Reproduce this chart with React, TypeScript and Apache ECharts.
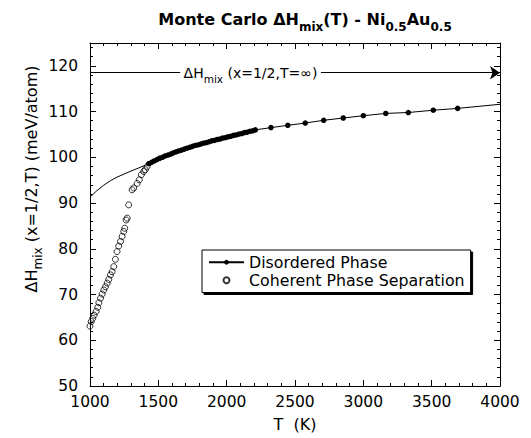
import React, { useEffect, useRef } from 'react';
import * as echarts from 'echarts';

// ---- data ----
// extrapolated part of the disordered-phase curve (line only, no markers)
const extrapT = [1000, 1050, 1100, 1150, 1200, 1300, 1400];
const extrapH = [91.3, 92.7, 93.9, 94.9, 95.7, 97.0, 98.2];

// simulated disordered-phase points (filled dots)
const disorderedT = [
  1430, 1450, 1470, 1490, 1510, 1530, 1550, 1570, 1590, 1610,
  1630, 1650, 1670, 1690, 1710, 1730, 1750, 1770, 1790, 1810,
  1830, 1850, 1870, 1890, 1910, 1930, 1950, 1970, 1990, 2010,
  2030, 2050, 2070, 2090, 2110, 2130, 2150, 2170, 2190, 2210,
  2324, 2447, 2575, 2710, 2853, 3000, 3164, 3329, 3512, 3690,
];
const disorderedH = [
  98.6, 98.9, 99.2, 99.5, 99.8, 100.0, 100.3, 100.5, 100.7, 101.0,
  101.2, 101.4, 101.6, 101.8, 102.0, 102.2, 102.4, 102.6, 102.7, 102.9,
  103.1, 103.2, 103.4, 103.6, 103.7, 103.9, 104.0, 104.2, 104.3, 104.5,
  104.6, 104.8, 104.9, 105.1, 105.2, 105.4, 105.5, 105.7, 105.8, 106.0,
  106.5, 107.0, 107.5, 108.1, 108.6, 109.1, 109.6, 109.8, 110.3, 110.7,
];
// curve end (line only)
const curveEndT = [4000];
const curveEndH = [111.6];

// coherent phase separation (open circles)
const coherentT = [
  1000, 1009, 1020, 1030, 1045, 1057, 1065, 1077, 1089, 1101,
  1113, 1126, 1137, 1150, 1162, 1174, 1186, 1198, 1210, 1223,
  1235, 1247, 1254, 1264, 1272, 1283, 1308, 1320, 1345, 1361,
  1376, 1393, 1405, 1418,
];
const coherentH = [
  63.1, 64.1, 64.8, 65.5, 66.3, 67.2, 68.2, 69.2, 70.1, 71.0,
  71.7, 72.5, 73.3, 74.3, 75.0, 76.1, 77.7, 79.4, 80.6, 81.6,
  82.7, 83.8, 84.5, 86.3, 86.7, 89.6, 92.9, 93.3, 94.3, 95.1,
  96.2, 96.9, 97.3, 98.0,
];

// infinite-temperature limit arrow
const limitH = 118.5;
const limitLabelT = 2174;
const limitSegments = [
  [1000, 1660],
  [2690, 4000],
];

// axes
const T_MIN = 1000;
const T_MAX = 4000;
const T_STEP = 500;
const H_MIN = 50;
const H_MAX = 125;
const H_STEP = 10;
const H_MINOR = 2;

const seriesNames = ['Disordered Phase', 'Coherent Phase Separation'];

const FONT = 'DejaVu Sans';

function buildOption() {
  const black = '#000';
  const xBase = (position: 'bottom' | 'top') => ({
    type: 'value',
    position,
    min: T_MIN,
    max: T_MAX,
    interval: T_STEP,
    axisLine: { show: true, onZero: false, lineStyle: { color: black, width: 1 } },
    axisTick: { show: true, inside: true, length: 6, lineStyle: { color: black, width: 1 } },
    minorTick: { show: true, splitNumber: 5, length: 3, lineStyle: { color: black, width: 1 } },
    splitLine: { show: false },
    minorSplitLine: { show: false },
  });
  const yBase = (position: 'left' | 'right', step: number, len: number, showLine: boolean) => ({
    type: 'value',
    position,
    min: H_MIN,
    max: H_MAX,
    interval: step,
    axisLine: { show: showLine, onZero: false, lineStyle: { color: black, width: 1 } },
    axisTick: { show: true, inside: true, length: len, lineStyle: { color: black, width: 1 } },
    axisLabel: { show: false },
    splitLine: { show: false },
  });

  const lineData: any[] = [];
  extrapT.forEach((t, i) => lineData.push({ value: [t, extrapH[i]], symbol: 'none' }));
  disorderedT.forEach((t, i) => lineData.push([t, disorderedH[i]]));
  curveEndT.forEach((t, i) => lineData.push({ value: [t, curveEndH[i]], symbol: 'none' }));

  const mainRich = {
    m: { fontSize: 14, fontFamily: FONT, color: black, lineHeight: 24, verticalAlign: 'middle' },
    s: { fontSize: 10.5, fontFamily: FONT, color: black, lineHeight: 24, verticalAlign: 'bottom' },
  };

  return {
    animation: false,
    backgroundColor: '#fff',
    textStyle: { fontFamily: FONT, color: black },
    grid: { left: 90, right: 31, top: 43, bottom: 52, containLabel: false },
    legend: {
      show: true,
      orient: 'vertical',
      left: 202,
      top: 250,
      data: [
        { name: seriesNames[0] },
        { name: seriesNames[1], icon: 'circle' },
      ],
      selectedMode: false,
      itemWidth: 35,
      itemHeight: 6,
      itemGap: 1.5,
      padding: [4, 6, 4, 6],
      backgroundColor: '#fff',
      borderColor: black,
      borderWidth: 1,
      borderRadius: 0,
      shadowColor: black,
      shadowBlur: 0,
      shadowOffsetX: 2,
      shadowOffsetY: 2,
      textStyle: { fontFamily: FONT, fontSize: 15.8, color: black, lineHeight: 16.5 },
    },
    xAxis: [
      {
        ...xBase('bottom'),
        axisLabel: {
          show: true,
          margin: 8,
          fontFamily: FONT,
          fontSize: 15.5,
          color: black,
          formatter: (v: number) => String(v),
        },
        name: 'T  (K)',
        nameLocation: 'middle',
        nameGap: 30,
        nameTextStyle: { fontFamily: FONT, fontSize: 16, color: black },
      },
      { ...xBase('top'), axisLabel: { show: false } },
    ],
    yAxis: [
      {
        ...yBase('left', H_STEP, 6, true),
        axisLabel: {
          show: true,
          margin: 12,
          fontFamily: FONT,
          fontSize: 15.5,
          color: black,
          showMaxLabel: false,
          formatter: (v: number) => (v % H_STEP === 0 ? String(v) : ''),
        },
      },
      yBase('left', H_MINOR, 3, false),
      yBase('right', H_STEP, 6, true),
      yBase('right', H_MINOR, 3, false),
    ],
    graphic: [
      {
        type: 'text',
        x: 305,
        y: 19.5,
        silent: true,
        style: {
          text: '{b|Monte Carlo ΔH}{bs|mix}{b|(T) - Ni}{bs|0.5}{b|Au}{bs|0.5}',
          align: 'center',
          verticalAlign: 'middle',
          rich: {
            b: { fontSize: 16, fontWeight: 'bold', fontFamily: FONT, color: black, lineHeight: 26, verticalAlign: 'middle' },
            bs: { fontSize: 12, fontWeight: 'bold', fontFamily: FONT, color: black, lineHeight: 26, verticalAlign: 'bottom' },
          },
        },
      },
      {
        type: 'text',
        x: 31,
        y: 179,
        rotation: Math.PI / 2,
        silent: true,
        style: {
          text: '{m|ΔH}{s|mix}{m| (x=1/2,T) (meV/atom)}',
          align: 'center',
          verticalAlign: 'middle',
          rich: {
            m: { fontSize: 16, fontFamily: FONT, color: black, lineHeight: 26, verticalAlign: 'middle' },
            s: { fontSize: 12, fontFamily: FONT, color: black, lineHeight: 26, verticalAlign: 'bottom' },
          },
        },
      },
    ],
    series: [
      {
        name: seriesNames[0],
        type: 'line',
        xAxisIndex: 0,
        yAxisIndex: 0,
        data: lineData,
        symbol: 'circle',
        symbolSize: 5.5,
        showSymbol: true,
        itemStyle: { color: black },
        lineStyle: { color: black, width: 1 },
        emphasis: { disabled: true },
        z: 3,
        markLine: {
          silent: true,
          symbol: ['none', 'none'],
          label: { show: false },
          lineStyle: { color: black, width: 1, type: 'solid' },
          emphasis: { disabled: true },
          data: [
            [
              { coord: [limitSegments[0][0], limitH] },
              { coord: [limitSegments[0][1], limitH] },
            ],
            [
              { coord: [limitSegments[1][0], limitH] },
              { coord: [limitSegments[1][1], limitH], symbol: 'arrow', symbolSize: 10 },
            ],
          ],
        },
        markPoint: {
          silent: true,
          symbol: 'circle',
          symbolSize: 0,
          itemStyle: { color: 'transparent' },
          label: {
            show: true,
            position: 'inside',
            formatter: '{m|ΔH}{s|mix}{m| (x=1/2,T=∞)}',
            rich: mainRich,
          },
          data: [{ coord: [limitLabelT, limitH] }],
        },
      },
      {
        name: seriesNames[1],
        type: 'scatter',
        xAxisIndex: 0,
        yAxisIndex: 0,
        data: coherentT.map((t, i) => [t, coherentH[i]]),
        symbol: 'circle',
        symbolSize: 6,
        itemStyle: { color: 'rgba(255,255,255,0)', borderColor: black, borderWidth: 1 },
        emphasis: { disabled: true },
        z: 2,
      },
    ],
  };
}

export default function App() {
  const ref = useRef<HTMLDivElement>(null);
  useEffect(() => {
    if (!ref.current) return;
    const chart = echarts.init(ref.current, null, { renderer: 'svg' });
    chart.setOption(buildOption() as any);
    return () => {
      chart.dispose();
    };
  }, []);
  return (
    <div
      ref={ref}
      style={{ position: 'fixed', left: 0, top: 0, width: 531, height: 438, background: '#fff' }}
    />
  );
}
